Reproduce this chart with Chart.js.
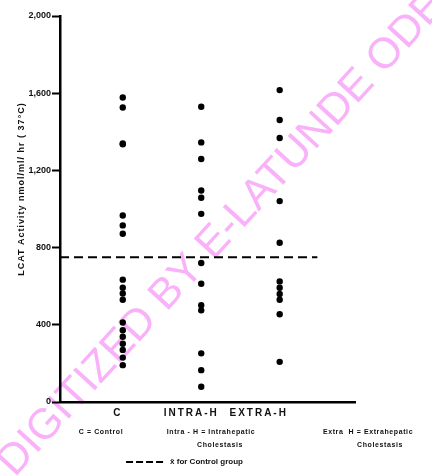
<!DOCTYPE html>
<html><head><meta charset="utf-8">
<script src="https://cdn.jsdelivr.net/npm/chart.js@4.4.1/dist/chart.umd.min.js"></script>
<style>html,body{margin:0;padding:0;background:#fff}#wrap{width:432px;height:476px}</style>
</head><body><div id="wrap"><canvas id="c" width="432" height="476"></canvas></div>
<script>
// ---- data ----
const categories = ["C", "INTRA-H", "EXTRA-H"];
const controlValues = [1578, 1526, 1340, 1335, 966, 915, 872, 634, 592, 562, 530, 412, 372, 338, 302, 270, 230, 191];
const intraValues = [1530, 1345, 1259, 1096, 1058, 975, 720, 613, 501, 475, 252, 165, 79];
const extraValues = [1616, 1461, 1368, 1041, 825, 625, 592, 560, 530, 455, 208];
const controlMean = 750;
const meanLineEnd = 3.48;
const yTickValues = [0, 400, 800, 1200, 1600, 2000];
const yTitle = "LCAT Activity nmol/ml/ hr ( 37°C)";
const groupNotes = [["C = Control"], ["Intra - H = Intrahepatic", "Cholestasis"], ["Extra  H = Extrahepatic", "Cholestasis"]];
const legendLabel = "x\u0304 for Control group";
const watermark = "DIGITIZED BY E-LATUNDE ODE";

// ---- styles / layout ----
const X_MIN = 0.2, X_MAX = 3.96;
const FONT = '"Liberation Sans", Arial, sans-serif';
const labelShift = [-6, -11, -22];
const noteX = [101, 211, 368];
const noteX2 = [null, 220, 380];

const series = [controlValues, intraValues, extraValues];
const scatterSets = series.map((vals, i) => ({
  type: 'scatter',
  label: categories[i],
  data: vals.map(v => ({x: i + 1, y: v})),
  pointRadius: 3.2,
  pointHoverRadius: 3.2,
  backgroundColor: '#000',
  borderColor: '#000',
  borderWidth: 0
}));

const meanSet = {
  type: 'line',
  label: legendLabel,
  data: [{x: X_MIN, y: controlMean}, {x: meanLineEnd, y: controlMean}],
  borderColor: '#000',
  borderWidth: 2,
  borderDash: [9, 5],
  pointRadius: 0,
  fill: false
};

const decor = {
  id: 'decor',
  beforeDraw(chart) {
    const ctx = chart.ctx;
    ctx.save();
    ctx.fillStyle = '#fff';
    ctx.fillRect(0, 0, chart.width, chart.height);
    ctx.translate(222, 234);
    ctx.rotate(-47.5 * Math.PI / 180);
    ctx.font = '43px ' + FONT;
    ctx.fillStyle = 'rgb(249,178,249)';
    ctx.textAlign = 'center';
    ctx.textBaseline = 'middle';
    ctx.fillText(watermark, 0, 0);
    ctx.restore();
  },
  afterDraw(chart) {
    const ctx = chart.ctx;
    const xs = chart.scales.x;
    const ys = chart.scales.y;
    const base = chart.chartArea.bottom;
    ctx.save();
    ctx.fillStyle = '#111';
    ctx.textAlign = 'center';
    ctx.textBaseline = 'middle';
    // y title
    ctx.save();
    ctx.translate(22, (ys.top + ys.bottom) / 2 - 20);
    ctx.rotate(-Math.PI / 2);
    ctx.font = 'bold 9px ' + FONT;
    ctx.letterSpacing = '1px';
    ctx.fillText(yTitle, 0, 0);
    ctx.restore();
    // category labels
    ctx.font = 'bold 10px ' + FONT;
    ctx.letterSpacing = '2px';
    categories.forEach((c, i) => {
      ctx.fillText(c, xs.getPixelForValue(i + 1) + labelShift[i] + 1, base + 11);
    });
    // notes
    ctx.font = 'bold 7px ' + FONT;
    ctx.letterSpacing = '0.6px';
    groupNotes.forEach((lines, i) => {
      ctx.fillText(lines[0], noteX[i], base + 30);
      if (lines[1]) ctx.fillText(lines[1], noteX2[i], base + 43);
    });
    ctx.restore();
  }
};

new Chart(document.getElementById('c'), {
  data: {datasets: [...scatterSets, meanSet]},
  options: {
    responsive: false,
    animation: false,
    events: [],
    layout: {padding: {top: 16, left: 14, right: 77, bottom: 0}},
    plugins: {
      tooltip: {enabled: false},
      legend: {
        position: 'bottom',
        labels: {
          filter: item => item.datasetIndex === 3,
          generateLabels: chart => {
            const items = Chart.defaults.plugins.legend.labels.generateLabels(chart);
            items.forEach(it => { it.lineDash = [7, 3]; it.lineWidth = 2; it.strokeStyle = '#000'; });
            return items;
          },
          usePointStyle: true,
          pointStyle: 'line',
          pointStyleWidth: 40,
          color: '#111',
          font: {family: FONT, size: 8, weight: 'bold'},
          padding: 4
        }
      }
    },
    scales: {
      x: {
        type: 'linear',
        min: X_MIN, max: X_MAX,
        ticks: {display: false},
        grid: {display: false},
        border: {display: true, color: '#000', width: 2.5},
        afterFit: s => { s.height = 52; }
      },
      y: {
        type: 'linear',
        min: 0, max: 2000,
        afterBuildTicks: s => { s.ticks = yTickValues.map(v => ({value: v})); },
        ticks: {
          color: '#111',
          padding: 1,
          font: {family: FONT, size: 9, weight: 'bold'},
          callback: v => v.toLocaleString('en-US')
        },
        grid: {drawOnChartArea: false, drawTicks: true, tickLength: 8, tickWidth: 2, tickColor: '#000'},
        border: {display: true, color: '#000', width: 2.5},
        title: {display: false, text: yTitle},
        afterFit: s => { s.width = 46; }
      }
    }
  },
  plugins: [decor]
});
</script></body></html>
